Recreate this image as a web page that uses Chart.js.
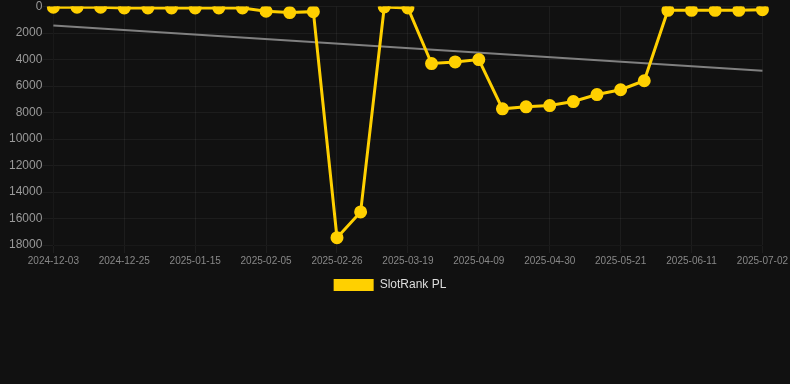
<!DOCTYPE html>
<html>
<head>
<meta charset="utf-8">
<script src="https://cdn.jsdelivr.net/npm/chart.js@4.4.0/dist/chart.umd.min.js"></script>
<style>
  html, body { margin: 0; padding: 0; background: #111111; }
  #wrap { width: 790px; height: 301px; position: relative; }
</style>
</head>
<body>
<div id="wrap"><canvas id="graficoRank"></canvas></div>
<script>
const datas = [
  "2024-12-03", "2024-12-11", "2024-12-18", "2024-12-25", "2025-01-01", "2025-01-08",
  "2025-01-15", "2025-01-22", "2025-01-29", "2025-02-05", "2025-02-12", "2025-02-19",
  "2025-02-26", "2025-03-05", "2025-03-12", "2025-03-19", "2025-03-26", "2025-04-02",
  "2025-04-09", "2025-04-16", "2025-04-23", "2025-04-30", "2025-05-07", "2025-05-14",
  "2025-05-21", "2025-05-28", "2025-06-04", "2025-06-11", "2025-06-18", "2025-06-25",
  "2025-07-02"
];

const rankPL = [
  50, 50, 50, 100, 100, 100, 100, 100, 100, 350, 450, 380,
  17450, 15500, 30, 100, 4300, 4180, 4000, 7720, 7570, 7470,
  7170, 6640, 6280, 5600, 280, 280, 280, 280, 230
];

// only the two ends of the trend line, the rest is left empty
const tendencia = datas.map(() => null);
tendencia[0] = 1420;
tendencia[datas.length - 1] = 4840;

const yTicks = [0, 2000, 4000, 6000, 8000, 10000, 12000, 14000, 16000, 18000];

const ctx = document.getElementById('graficoRank').getContext('2d');

new Chart(ctx, {
  type: 'line',
  data: {
    labels: datas,
    datasets: [
      {
        label: 'SlotRank PL',
        data: rankPL,
        borderColor: '#ffd000',
        backgroundColor: '#ffd000',
        borderWidth: 3,
        pointRadius: 5,
        pointHoverRadius: 6,
        tension: 0
      },
      {
        label: 'trend',
        data: tendencia,
        borderColor: '#808080',
        borderWidth: 2,
        pointRadius: 0,
        spanGaps: true,
        tension: 0
      }
    ]
  },
  options: {
    responsive: true,
    maintainAspectRatio: false,
    animation: false,
    layout: { autoPadding: false, padding: { left: 9, right: 19 } },
    plugins: {
      legend: {
        position: 'bottom',
        labels: {
          color: '#dddddd',
          font: { size: 12 },
          filter: item => item.text !== 'trend',
          generateLabels: chart => {
            const items = Chart.defaults.plugins.legend.labels.generateLabels(chart);
            items.forEach(it => { it.lineWidth = 0; });
            return items;
          }
        }
      },
      tooltip: { enabled: false }
    },
    scales: {
      x: {
        ticks: {
          color: '#888888',
          font: { size: 10 },
          padding: 2,
          maxRotation: 0,
          autoSkip: true,
          maxTicksLimit: 11
        },
        grid: { color: 'rgba(255,255,255,0.05)' }
      },
      y: {
        reverse: true,
        min: 0,
        max: 18000,
        afterBuildTicks: axis => { axis.ticks = yTicks.map(v => ({ value: v })); },
        ticks: {
          color: '#999999',
          font: { size: 12, lineHeight: 1.1 },
          padding: 0,
          callback: v => String(v)
        },
        grid: { color: 'rgba(255,255,255,0.05)', tickLength: 11 }
      }
    }
  }
});
</script>
</body>
</html>
